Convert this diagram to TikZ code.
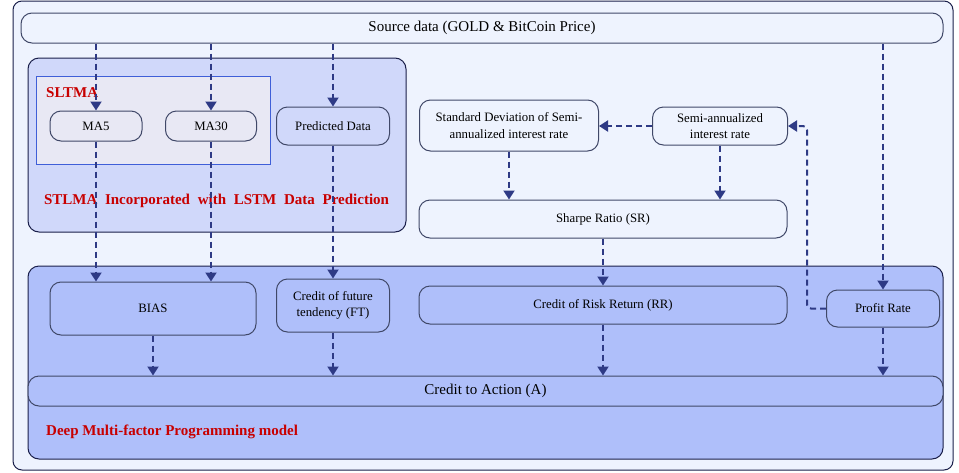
\documentclass[tikz,border=0pt]{standalone}
\usepackage{fontspec}
\setmainfont{Liberation Serif}
\usetikzlibrary{arrows.meta}
\definecolor{pagebg}{HTML}{EEF3FE}
\definecolor{stlmabg}{HTML}{D0D8FA}
\definecolor{sltmabg}{HTML}{E8E8F4}
\definecolor{deepbg}{HTML}{AFBFFA}
\definecolor{frameline}{HTML}{1A1F4A}
\definecolor{boxline}{HTML}{404868}
\definecolor{sltmaline}{HTML}{3F5FD8}
\definecolor{flowblue}{HTML}{2E3A85}
\definecolor{labelred}{HTML}{C80000}

\begin{document}
\begin{tikzpicture}[x=1pt, y=-1pt]
        \tikzstyle{every node}=[font=\fontsize{12.8}{16.5}\selectfont, align=center, inner sep=2pt]
        \tikzstyle{group}=[draw=frameline, line width=1pt, rounded corners=11pt]
        \tikzstyle{box}=[draw=boxline, line width=1pt, rounded corners=11pt]
        \tikzstyle{big}=[font=\fontsize{15}{18}\selectfont]
        \tikzstyle{title}=[text=labelred, font=\fontsize{15}{18}\selectfont\bfseries]
        \tikzstyle{flow}=[draw=flowblue, line width=2pt, dash pattern=on 6pt off 4pt, -{Triangle[width=11pt,length=9pt]}]
        \useasboundingbox (0,0) rectangle (959,472);
        % frames and groups
        \node [group, fill=pagebg, rounded corners=9pt, minimum width=940, minimum height=469] (frame) at (483,235.5) {};
        \node [box, fill=pagebg, minimum width=922, minimum height=30, big] (src) at (482,28) {Source data (GOLD \& BitCoin Price)};
        \node [group, fill=stlmabg, minimum width=378, minimum height=174] (stlma) at (217,145) {};
        \node [draw=sltmaline, line width=0.8pt, fill=sltmabg, minimum width=234, minimum height=88] (sltma) at (153,120) {};
        \node [title, anchor=west] (sltmalabel) at (44,93) {SLTMA};
        \node [title] (stlmalabel) at (216.5,201) {\makebox[345pt][s]{STLMA Incorporated with LSTM Data Prediction}};
        \node [group, fill=deepbg, minimum width=915, minimum height=193] (deep) at (485.5,362.5) {};
        \node [title, anchor=west] (deeplabel) at (44,432) {Deep Multi-factor Programming model};
        % boxes
        \node [box, fill=sltmabg, minimum width=92, minimum height=30] (ma5) at (96,126) {MA5};
        \node [box, fill=sltmabg, minimum width=91, minimum height=30] (ma30) at (211,126) {MA30};
        \node [box, fill=stlmabg, minimum width=113, minimum height=38] (pred) at (333,126) {Predicted Data};
        \node [box, fill=pagebg, minimum width=179, minimum height=51] (sd) at (509,125.5) {Standard Deviation of Semi-\\annualized interest rate};
        \node [box, fill=pagebg, minimum width=135, minimum height=38] (semi) at (720,126) {Semi-annualized\\interest rate};
        \node [box, fill=pagebg, minimum width=368, minimum height=38] (sharpe) at (603,219) {Sharpe Ratio (SR)};
        \node [box, fill=deepbg, minimum width=206, minimum height=53] (bias) at (153,308.5) {BIAS};
        \node [box, fill=deepbg, minimum width=113, minimum height=53] (ft) at (333,305.5) {Credit of future\\tendency (FT)};
        \node [box, fill=deepbg, minimum width=368, minimum height=38] (rr) at (603,305) {Credit of Risk Return (RR)};
        \node [box, fill=deepbg, minimum width=113, minimum height=37] (profit) at (883,308.5) {Profit Rate};
        \node [box, fill=deepbg, minimum width=915, minimum height=30, big] (action) at (485.5,391) {Credit to Action (A)};
        \coordinate (bend) at (807,308.5);
        % connectors
        \draw [flow] (src.south -| ma5) -- (ma5.north);
        \draw [flow] (src.south -| ma30) -- (ma30.north);
        \draw [flow] (src.south -| pred) -- (pred.north);
        \draw [flow] (ma5.south) -- (ma5.south |- bias.north);
        \draw [flow] (ma30.south) -- (ma30.south |- bias.north);
        \draw [flow] (pred.south) -- (ft.north);
        \draw [flow] (bias.south) -- (bias.south |- action.north);
        \draw [flow] (ft.south) -- (ft.south |- action.north);
        \draw [flow] (semi.west) -- (sd.east |- semi.west);
        \draw [flow] (sd.south) -- (sd.south |- sharpe.north);
        \draw [flow] (semi.south) -- (semi.south |- sharpe.north);
        \draw [flow] (sharpe.south) -- (rr.north);
        \draw [flow] (rr.south) -- (rr.south |- action.north);
        \draw [flow, rounded corners=4pt] (profit.west) -- (bend) |- (semi.east);
        \draw [flow] (src.south -| profit) -- (profit.north);
        \draw [flow] (profit.south) -- (profit.south |- action.north);
\end{tikzpicture}
\end{document}
